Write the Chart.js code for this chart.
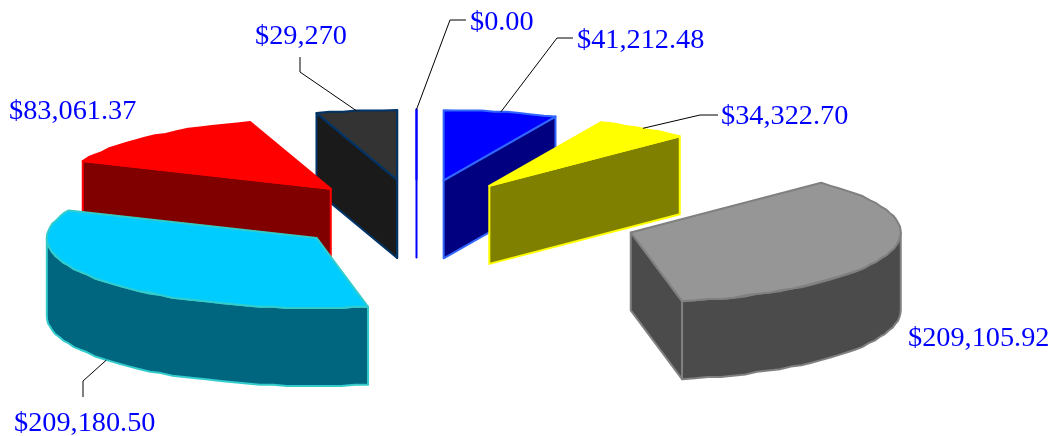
<!DOCTYPE html>
<html>
<head>
<meta charset="utf-8">
<style>
  html, body { margin: 0; padding: 0; background: #fff; }
  canvas { display: block; }
</style>
<script src="https://cdn.jsdelivr.net/npm/chart.js@4/dist/chart.umd.min.js"></script>
</head>
<body>
<canvas id="pie" width="1052" height="436"></canvas>
<script>
// Slice values, clockwise from 12 o'clock
const sliceValues = [0, 41212.48, 34322.70, 209105.92, 209180.50, 83061.37, 29270];
const sliceLabels = ['$0.00', '$41,212.48', '$34,322.70', '$209,105.92', '$209,180.50', '$83,061.37', '$29,270'];

const topColors = ['#0000ff', '#0000ff', '#ffff00', '#969696', '#00ccff', '#ff0000', '#333333'];
const sideColors = ['#000080', '#000080', '#808000', '#4b4b4b', '#006680', '#800000', '#1a1a1a'];
const edgeColors = ['#0000ff', '#3366ff', '#ffff00', '#808080', '#33cccc', '#ff0000', '#003366'];

// Fake 3D settings for the plugin below
const view = { cx: 416.5, cy: 215.5, rx: 270, ry: 70, depth: 78 };
// exploded distance on screen, the gray slice is pulled further out
const explodeX = i => (i === 3 ? 224 : 128);
const explodeY = i => (i === 3 ? 58 : 36);

// Label placement: text at x/y, optional leader elbow and end
const callouts = [
  { x: 470, y: 30, leader: [[450, 20], [466, 20]] },
  { x: 577, y: 48, leader: [[557, 38], [573, 38]] },
  { x: 721, y: 124, leader: [[700, 115], [718, 115]] },
  { x: 908, y: 346 },
  { x: 14, y: 431, leader: [[83, 381], [83, 397]], front: true },
  { x: 9, y: 119 },
  { x: 255, y: 44, leader: [[300, 72], [300, 57]] }
];

function pathPoints(ctx, pts) {
  ctx.beginPath();
  pts.forEach((p, n) => (n ? ctx.lineTo(p.x, p.y) : ctx.moveTo(p.x, p.y)));
  ctx.closePath();
}

const pie3d = {
  id: 'pie3d',
  beforeDatasetDraw(chart, args) {
    const ctx = chart.ctx;
    const arcs = args.meta.data;
    const R = arcs[0].outerRadius;
    const sx = view.rx / R, sy = view.ry / R;

    const slices = arcs.map((arc, i) => {
      const mid = (arc.startAngle + arc.endAngle) / 2;
      const apex = {
        x: view.cx + Math.cos(mid) * explodeX(i),
        y: view.cy + Math.sin(mid) * explodeY(i)
      };
      const at = a => ({ x: apex.x + Math.cos(a) * view.rx, y: apex.y + Math.sin(a) * view.ry });
      return { arc, i, apex, at };
    });
    // back to front
    const order = slices.slice().sort((a, b) => a.apex.y - b.apex.y);

    const down = p => ({ x: p.x, y: p.y + view.depth });
    // the rim is a slightly rough polyline, y snapped like the original
    const rimPoints = (at, from, to) => {
      const steps = Math.max(1, Math.round((to - from) / 0.05));
      const pts = [];
      for (let n = 0; n <= steps; n++) {
        const p = at(from + (to - from) * n / steps);
        pts.push(n === 0 || n === steps ? p : { x: p.x, y: Math.round(p.y / 1.3) * 1.3 });
      }
      return pts;
    };

    order.forEach(({ arc, i, apex, at }) => {
      const s = arc.startAngle, e = arc.endAngle;
      ctx.save();
      ctx.lineJoin = 'round';
      ctx.lineWidth = 2;
      ctx.fillStyle = sideColors[i];
      ctx.strokeStyle = edgeColors[i];

      // side walls that face the viewer
      const wall = pts => { pathPoints(ctx, pts); ctx.fill(); ctx.stroke(); };
      if (Math.sin(s - Math.PI / 2) > 1e-6) wall([apex, at(s), down(at(s)), down(apex)]);
      if (Math.sin(e + Math.PI / 2) > -1e-6) wall([apex, at(e), down(at(e)), down(apex)]);
      const lo = Math.max(s, 0), hi = Math.min(e, Math.PI);
      if (hi > lo) {
        const upper = rimPoints(at, lo, hi);
        wall(upper.concat(upper.map(down).reverse()));
      }

      // top face is the library's own arc, squashed onto the ellipse
      ctx.save();
      ctx.translate(apex.x, apex.y);
      ctx.scale(sx, sy);
      ctx.translate(-arc.x, -arc.y);
      arc.draw(ctx);
      ctx.restore();

      pathPoints(ctx, [apex].concat(rimPoints(at, s, e)));
      ctx.fillStyle = topColors[i];
      ctx.fill();
      ctx.stroke();
      ctx.restore();
    });

    // callouts
    ctx.save();
    ctx.font = '28.3px "Liberation Serif"';
    ctx.textBaseline = 'alphabetic';
    slices.forEach(({ arc, i, at }) => {
      const c = callouts[i];
      if (c.leader) {
        const p = at((arc.startAngle + arc.endAngle) / 2);
        ctx.beginPath();
        ctx.moveTo(p.x, p.y + (c.front ? view.depth : 0));
        c.leader.forEach(q => ctx.lineTo(q[0], q[1]));
        ctx.strokeStyle = '#000';
        ctx.lineWidth = 1;
        ctx.stroke();
      }
      ctx.fillStyle = '#0000ff';
      ctx.fillText(sliceLabels[i], c.x, c.y);
    });
    ctx.restore();
    return false;
  }
};

new Chart(document.getElementById('pie'), {
  type: 'pie',
  data: {
    labels: sliceLabels,
    datasets: [{ data: sliceValues, backgroundColor: topColors, borderWidth: 0 }]
  },
  options: {
    responsive: false,
    animation: false,
    events: [],
    plugins: { legend: { display: false }, tooltip: { enabled: false } }
  },
  plugins: [pie3d]
});
</script>
</body>
</html>
